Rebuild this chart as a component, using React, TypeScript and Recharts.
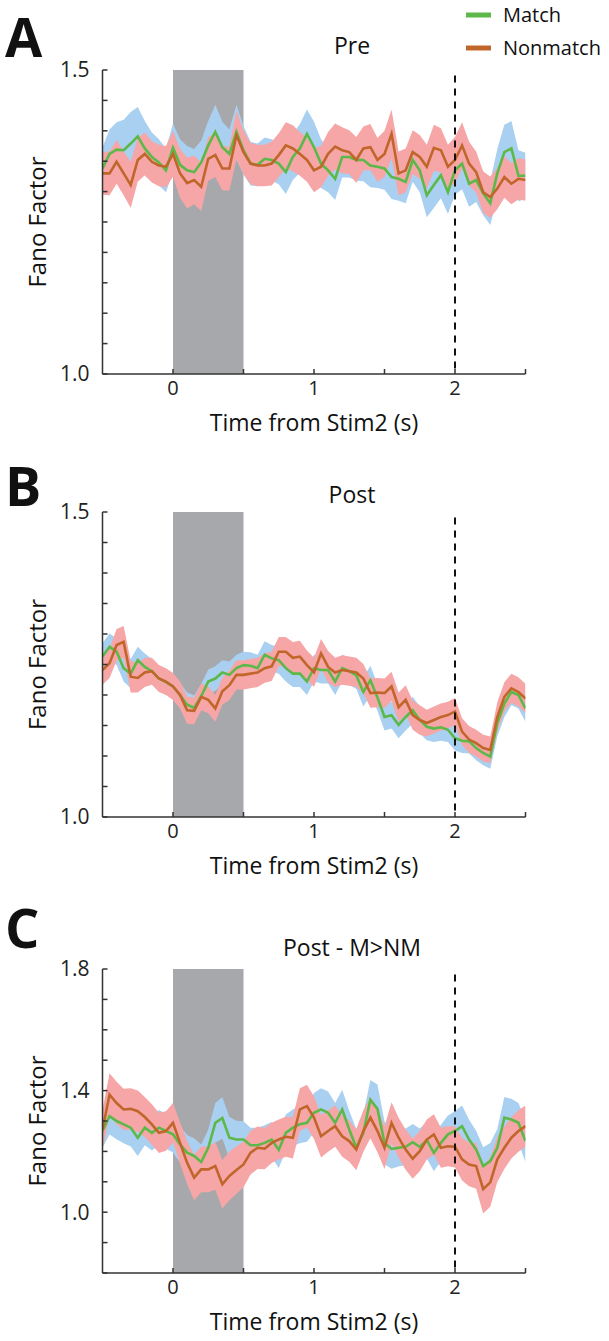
import React from 'react';
import { ComposedChart, Area, Line, XAxis, YAxis, ReferenceArea, ReferenceLine } from 'recharts';

// time from Stim2 (s)
const time = [
  -0.5, -0.45, -0.4, -0.35, -0.3, -0.25, -0.2, -0.15, -0.1, -0.05,
  0, 0.05, 0.1, 0.15, 0.2, 0.25, 0.3, 0.35, 0.4, 0.45,
  0.5, 0.55, 0.6, 0.65, 0.7, 0.75, 0.8, 0.85, 0.9, 0.95,
  1.0, 1.05, 1.1, 1.15, 1.2, 1.25, 1.3, 1.35, 1.4, 1.45,
  1.5, 1.55, 1.6, 1.65, 1.7, 1.75, 1.8, 1.85, 1.9, 1.95,
  2.0, 2.05, 2.1, 2.15, 2.2, 2.25, 2.3, 2.35, 2.4, 2.45, 2.5,
];

// Panel A: Pre
const preMatch = [
  1.338, 1.362, 1.369, 1.368, 1.379, 1.391, 1.371, 1.357, 1.348, 1.335,
  1.372, 1.344, 1.335, 1.332, 1.348, 1.376, 1.398, 1.373, 1.362, 1.398,
  1.368, 1.346, 1.344, 1.354, 1.352, 1.346, 1.332, 1.357, 1.371, 1.395,
  1.373, 1.346, 1.335, 1.321, 1.357, 1.357, 1.352, 1.352, 1.343, 1.341,
  1.338, 1.324, 1.321, 1.316, 1.352, 1.335, 1.294, 1.311, 1.327, 1.299,
  1.335, 1.346, 1.313, 1.319, 1.297, 1.281, 1.330, 1.365, 1.371, 1.326, 1.326,
];
const preMatchErr = [
  0.035, 0.040, 0.045, 0.050, 0.052, 0.048, 0.045, 0.040, 0.038, 0.036,
  0.040, 0.042, 0.040, 0.038, 0.036, 0.040, 0.045, 0.042, 0.040, 0.045,
  0.040, 0.036, 0.035, 0.035, 0.034, 0.034, 0.036, 0.038, 0.040, 0.040,
  0.042, 0.040, 0.036, 0.035, 0.034, 0.034, 0.034, 0.035, 0.036, 0.035,
  0.035, 0.036, 0.036, 0.035, 0.036, 0.036, 0.036, 0.038, 0.038, 0.036,
  0.040, 0.042, 0.038, 0.036, 0.036, 0.036, 0.040, 0.045, 0.045, 0.042, 0.038,
];
const preNonmatch = [
  1.330, 1.330, 1.349, 1.330, 1.311, 1.352, 1.362, 1.349, 1.343, 1.341,
  1.362, 1.330, 1.314, 1.319, 1.308, 1.354, 1.360, 1.338, 1.338, 1.393,
  1.365, 1.346, 1.343, 1.343, 1.346, 1.360, 1.376, 1.371, 1.362, 1.352,
  1.335, 1.341, 1.362, 1.374, 1.368, 1.365, 1.352, 1.371, 1.373, 1.352,
  1.362, 1.395, 1.330, 1.335, 1.365, 1.357, 1.341, 1.372, 1.368, 1.341,
  1.352, 1.376, 1.346, 1.332, 1.299, 1.291, 1.305, 1.324, 1.313, 1.321, 1.319,
];
const preNonmatchErr = [
  0.035, 0.036, 0.036, 0.036, 0.038, 0.036, 0.035, 0.034, 0.034, 0.034,
  0.038, 0.040, 0.042, 0.040, 0.040, 0.036, 0.036, 0.036, 0.036, 0.040,
  0.036, 0.034, 0.034, 0.034, 0.036, 0.036, 0.038, 0.038, 0.036, 0.036,
  0.036, 0.034, 0.036, 0.038, 0.038, 0.036, 0.038, 0.036, 0.038, 0.036,
  0.038, 0.040, 0.036, 0.036, 0.036, 0.036, 0.036, 0.038, 0.036, 0.036,
  0.038, 0.038, 0.036, 0.034, 0.034, 0.034, 0.034, 0.034, 0.034, 0.034, 0.034,
];

// Panel B: Post
const postMatch = [
  1.263, 1.279, 1.271, 1.244, 1.235, 1.257, 1.246, 1.239, 1.227, 1.221,
  1.214, 1.200, 1.184, 1.179, 1.198, 1.222, 1.227, 1.237, 1.233, 1.244,
  1.249, 1.248, 1.244, 1.266, 1.260, 1.257, 1.244, 1.235, 1.235, 1.222,
  1.244, 1.241, 1.241, 1.222, 1.244, 1.239, 1.232, 1.205, 1.224, 1.196,
  1.164, 1.167, 1.151, 1.164, 1.175, 1.159, 1.148, 1.145, 1.147, 1.143,
  1.129, 1.125, 1.124, 1.113, 1.105, 1.099, 1.154, 1.186, 1.205, 1.200, 1.178,
];
const postMatchErr = [
  0.022, 0.022, 0.022, 0.022, 0.024, 0.022, 0.022, 0.020, 0.020, 0.020,
  0.020, 0.020, 0.020, 0.020, 0.020, 0.020, 0.020, 0.020, 0.022, 0.022,
  0.022, 0.022, 0.022, 0.022, 0.022, 0.022, 0.022, 0.022, 0.022, 0.022,
  0.022, 0.022, 0.022, 0.022, 0.022, 0.022, 0.022, 0.024, 0.024, 0.022,
  0.022, 0.022, 0.022, 0.022, 0.022, 0.022, 0.022, 0.022, 0.022, 0.020,
  0.020, 0.020, 0.020, 0.020, 0.020, 0.020, 0.022, 0.022, 0.022, 0.022, 0.022,
];
const postNonmatch = [
  1.241, 1.252, 1.282, 1.287, 1.230, 1.228, 1.237, 1.239, 1.227, 1.222,
  1.214, 1.200, 1.175, 1.174, 1.197, 1.192, 1.178, 1.206, 1.216, 1.233,
  1.233, 1.235, 1.237, 1.244, 1.247, 1.271, 1.271, 1.261, 1.263, 1.249,
  1.237, 1.268, 1.246, 1.237, 1.241, 1.239, 1.237, 1.227, 1.203, 1.204,
  1.203, 1.214, 1.180, 1.192, 1.167, 1.159, 1.154, 1.159, 1.164, 1.167,
  1.173, 1.140, 1.127, 1.121, 1.113, 1.110, 1.164, 1.197, 1.211, 1.205, 1.194,
];
const postNonmatchErr = [
  0.024, 0.024, 0.026, 0.026, 0.026, 0.024, 0.024, 0.022, 0.022, 0.022,
  0.022, 0.022, 0.022, 0.022, 0.022, 0.022, 0.022, 0.022, 0.024, 0.024,
  0.024, 0.024, 0.024, 0.024, 0.024, 0.024, 0.024, 0.026, 0.026, 0.024,
  0.024, 0.024, 0.026, 0.024, 0.024, 0.024, 0.024, 0.024, 0.024, 0.024,
  0.024, 0.024, 0.024, 0.024, 0.024, 0.024, 0.022, 0.022, 0.022, 0.022,
  0.022, 0.022, 0.022, 0.022, 0.022, 0.022, 0.024, 0.024, 0.024, 0.024, 0.024,
];

// Panel C: Post - M>NM
const mnmMatch = [
  1.267, 1.316, 1.300, 1.289, 1.278, 1.245, 1.278, 1.261, 1.278, 1.267,
  1.256, 1.223, 1.196, 1.185, 1.165, 1.212, 1.294, 1.310, 1.245, 1.239,
  1.239, 1.220, 1.220, 1.228, 1.239, 1.205, 1.261, 1.278, 1.289, 1.294,
  1.327, 1.338, 1.327, 1.294, 1.338, 1.272, 1.212, 1.261, 1.370, 1.340,
  1.228, 1.208, 1.212, 1.215, 1.230, 1.215, 1.237, 1.195, 1.228, 1.256,
  1.267, 1.283, 1.239, 1.206, 1.152, 1.168, 1.212, 1.311, 1.305, 1.294, 1.234,
];
const mnmMatchErr = [
  0.055, 0.060, 0.060, 0.062, 0.062, 0.060, 0.058, 0.058, 0.058, 0.058,
  0.060, 0.060, 0.058, 0.058, 0.058, 0.060, 0.065, 0.068, 0.068, 0.062,
  0.060, 0.058, 0.058, 0.058, 0.058, 0.060, 0.060, 0.060, 0.062, 0.062,
  0.065, 0.070, 0.070, 0.065, 0.065, 0.062, 0.062, 0.062, 0.065, 0.080,
  0.070, 0.065, 0.062, 0.060, 0.060, 0.060, 0.060, 0.060, 0.060, 0.062,
  0.065, 0.068, 0.065, 0.062, 0.062, 0.060, 0.062, 0.068, 0.068, 0.065, 0.070,
];
const mnmNonmatch = [
  1.272, 1.387, 1.359, 1.338, 1.340, 1.332, 1.313, 1.289, 1.261, 1.267,
  1.294, 1.228, 1.163, 1.114, 1.141, 1.141, 1.152, 1.092, 1.119, 1.139,
  1.157, 1.196, 1.212, 1.209, 1.228, 1.239, 1.248, 1.245, 1.338, 1.349,
  1.311, 1.250, 1.267, 1.283, 1.250, 1.234, 1.206, 1.267, 1.311, 1.267,
  1.212, 1.294, 1.245, 1.206, 1.176, 1.201, 1.239, 1.256, 1.212, 1.217,
  1.215, 1.174, 1.157, 1.152, 1.076, 1.098, 1.174, 1.212, 1.245, 1.267, 1.283,
];
const mnmNonmatchErr = [
  0.065, 0.070, 0.070, 0.068, 0.068, 0.068, 0.066, 0.066, 0.066, 0.065,
  0.065, 0.068, 0.070, 0.075, 0.075, 0.075, 0.078, 0.080, 0.080, 0.078,
  0.075, 0.072, 0.070, 0.068, 0.066, 0.066, 0.066, 0.068, 0.070, 0.070,
  0.070, 0.070, 0.068, 0.068, 0.068, 0.068, 0.068, 0.068, 0.068, 0.070,
  0.070, 0.068, 0.066, 0.066, 0.066, 0.066, 0.066, 0.066, 0.066, 0.066,
  0.068, 0.070, 0.072, 0.075, 0.080, 0.080, 0.075, 0.070, 0.068, 0.068, 0.068,
];

const xTicks = [0, 0.5, 1, 1.5, 2, 2.5];
const xTickLabels = [0, 1, 2];
const yTicksAB = [1.0, 1.05, 1.1, 1.15, 1.2, 1.25, 1.3, 1.35, 1.4, 1.45, 1.5];
const yLabelsAB = [1.0, 1.5];
const yTicksC = [0.8, 0.9, 1.0, 1.1, 1.2, 1.3, 1.4, 1.5, 1.6, 1.7, 1.8];
const yLabelsC = [1.0, 1.4, 1.8];

const stimOn = 0;
const stimOff = 0.5;
const responseTime = 2;

const FONT = '"Open Sans", "Noto Sans", "DejaVu Sans", sans-serif';
const GREEN = '#5cb848';
const ORANGE = '#c0662b';
const BLUE_BAND = '#a9d0f0';
const PINK_BAND = '#f6a6a6';
const GRAY = '#a7a8ab';
const AXIS = '#333333';

function buildRows(m: number[], me: number[], n: number[], ne: number[]) {
  return time.map((t, i) => ({
    t,
    match: m[i],
    nonmatch: n[i],
    matchBand: [m[i] - me[i], m[i] + me[i]],
    nonmatchBand: [n[i] - ne[i], n[i] + ne[i]],
  }));
}

const has = (list: number[], v: number) => list.some((x) => Math.abs(x - v) < 1e-6);

const PLOT_LEFT = 102.5;
const PLOT_RIGHT = 525.5;
const CHART_H = 440;
const TOP_MARGIN = 70;
const XAXIS_H = 30;

type PanelProps = {
  plotTop: number;
  plotHeight: number;
  rows: any[];
  domain: [number, number];
  yTicks: number[];
  yLabels: number[];
};

function Panel({ plotTop, plotHeight, rows, domain, yTicks, yLabels }: PanelProps) {
  const bottom = CHART_H - TOP_MARGIN - plotHeight - XAXIS_H;
  const dashTop = domain[1] - (domain[1] - domain[0]) * 0.018;
  return (
    <div style={{ position: 'absolute', left: 0, top: plotTop - TOP_MARGIN, width: 609, height: CHART_H }}>
      <ComposedChart
        width={609}
        height={CHART_H}
        data={rows}
        margin={{ top: TOP_MARGIN, right: 609 - PLOT_RIGHT, bottom, left: PLOT_LEFT - 40 }}
      >
        <XAxis
          dataKey="t"
          type="number"
          domain={[-0.5, 2.5]}
          ticks={xTicks}
          allowDataOverflow
          height={XAXIS_H}
          tickSize={-5}
          tickMargin={12}
          stroke={AXIS}
          strokeWidth={1.5}
          tick={{ fontSize: 20, fill: '#222', fontFamily: FONT }}
          tickFormatter={(v: number) => (has(xTickLabels, v) ? String(v) : '')}
          interval={0}
        />
        <YAxis
          type="number"
          domain={domain}
          ticks={yTicks}
          allowDataOverflow
          width={40}
          tickSize={-5}
          tickMargin={18}
          stroke={AXIS}
          strokeWidth={1.5}
          tick={{ fontSize: 21, fill: '#222', fontFamily: FONT }}
          tickFormatter={(v: number) => (has(yLabels, v) ? v.toFixed(1) : '')}
          interval={0}
        />
        <ReferenceArea
          x1={stimOn}
          x2={stimOff}
          y1={domain[0]}
          y2={domain[1]}
          fill={GRAY}
          fillOpacity={1}
          stroke="none"
        />
        <Area
          type="linear"
          dataKey="matchBand"
          fill={BLUE_BAND}
          fillOpacity={1}
          stroke="none"
          isAnimationActive={false}
        />
        <Area
          type="linear"
          dataKey="nonmatchBand"
          fill={PINK_BAND}
          fillOpacity={1}
          stroke="none"
          isAnimationActive={false}
        />
        <Line
          type="linear"
          dataKey="match"
          stroke={GREEN}
          strokeWidth={2.6}
          dot={false}
          isAnimationActive={false}
        />
        <Line
          type="linear"
          dataKey="nonmatch"
          stroke={ORANGE}
          strokeWidth={2.6}
          dot={false}
          isAnimationActive={false}
        />
        <ReferenceLine
          segment={[{ x: responseTime, y: dashTop }, { x: responseTime, y: domain[0] }]}
          stroke="#111"
          strokeWidth={2}
          strokeDasharray="7 6"
        />
      </ComposedChart>
    </div>
  );
}

const panels = [
  { letter: 'A', title: 'Pre', plotTop: 70, plotHeight: 304, letterY: 57, titleY: 54, rows: buildRows(preMatch, preMatchErr, preNonmatch, preNonmatchErr), domain: [1.0, 1.5] as [number, number], yTicks: yTicksAB, yLabels: yLabelsAB },
  { letter: 'B', title: 'Post', plotTop: 512, plotHeight: 305, letterY: 506, titleY: 503, rows: buildRows(postMatch, postMatchErr, postNonmatch, postNonmatchErr), domain: [1.0, 1.5] as [number, number], yTicks: yTicksAB, yLabels: yLabelsAB },
  { letter: 'C', title: 'Post - M>NM', plotTop: 969, plotHeight: 304, letterY: 948, titleY: 956, rows: buildRows(mnmMatch, mnmMatchErr, mnmNonmatch, mnmNonmatchErr), domain: [0.8, 1.8] as [number, number], yTicks: yTicksC, yLabels: yLabelsC },
];

const legendItems = [
  { name: 'Match', color: GREEN },
  { name: 'Nonmatch', color: ORANGE },
];

export default function App() {
  return (
    <div style={{ position: 'absolute', left: 0, top: 0, width: 609, height: 1341, background: '#fff', overflow: 'hidden' }}>
      {panels.map((p) => (
        <Panel key={p.letter} plotTop={p.plotTop} plotHeight={p.plotHeight} rows={p.rows} domain={p.domain} yTicks={p.yTicks} yLabels={p.yLabels} />
      ))}
      <svg width={609} height={1341} style={{ position: 'absolute', left: 0, top: 0, pointerEvents: 'none' }}>
        {panels.map((p) => {
          const axisY = p.plotTop + p.plotHeight;
          const midY = p.plotTop + p.plotHeight / 2;
          return (
            <g key={p.letter} fontFamily={FONT} fill="#111">
              <text x={5} y={p.letterY} fontSize={54} fontWeight="bold">{p.letter}</text>
              <text x={352} y={p.titleY} fontSize={23} textAnchor="middle">{p.title}</text>
              <text x={(PLOT_LEFT + PLOT_RIGHT) / 2} y={axisY + 57} fontSize={23} textAnchor="middle">Time from Stim2 (s)</text>
              <text x={0} y={0} fontSize={24} textAnchor="middle" transform={`translate(46, ${midY}) rotate(-90)`}>Fano Factor</text>
            </g>
          );
        })}
        {legendItems.map((it, i) => (
          <g key={it.name}>
            <line x1={466} x2={491} y1={15 + i * 33} y2={15 + i * 33} stroke={it.color} strokeWidth={5} />
            <text x={503} y={22 + i * 33} fontSize={20} fontFamily={FONT} fill="#111">{it.name}</text>
          </g>
        ))}
      </svg>
    </div>
  );
}
